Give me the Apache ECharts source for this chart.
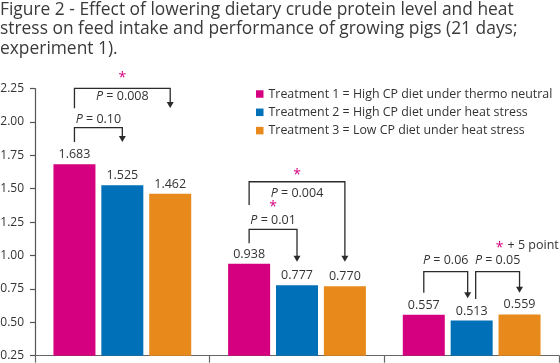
<!DOCTYPE html>
<html>
<head>
<meta charset="utf-8">
<script src="https://cdn.jsdelivr.net/npm/echarts@6/dist/echarts.min.js"></script>
<style>
html,body{margin:0;padding:0;background:#fff;}
#c{width:560px;height:363px;}
</style>
</head>
<body>
<div id="c"></div>
<script>
// ---- data ----
const categories = ['Group 1', 'Group 2', 'Group 3'];
const seriesNames = [
  'Treatment 1 = High CP diet under thermo neutral',
  'Treatment 2 = High CP diet under heat stress',
  'Treatment 3 = Low CP diet under heat stress'
];
const treatment1 = [1.683, 0.938, 0.557];
const treatment2 = [1.525, 0.777, 0.513];
const treatment3 = [1.462, 0.770, 0.559];
const yTicks = [0.25, 0.50, 0.75, 1.00, 1.25, 1.50, 1.75, 2.00, 2.25];
const pValues = ['0.008', '0.10', '0.004', '0.01', '0.06', '0.05'];
const titleText = 'Figure 2 - Effect of lowering dietary crude protein level and heat\nstress on feed intake and performance of growing pigs (21 days;\nexperiment 1).';
const noteText = '+ 5 point';

// ---- style ----
const colors = ['#d5007f', '#0070b9', '#e8891b'];
const FONT = '"Open Sans", sans-serif';
const TXT = '#333333';

const chart = echarts.init(document.getElementById('c'), null, {renderer: 'canvas'});

const allSeries = [treatment1, treatment2, treatment3].map((d, i) => ({
  name: seriesNames[i],
  type: 'bar',
  data: d,
  barWidth: 42,
  barGap: '14%',
  itemStyle: {color: colors[i]},
  label: {
    show: true, position: 'top', distance: 3,
    color: TXT, fontFamily: FONT, fontSize: 12.5,
    formatter: p => p.value.toFixed(3)
  }
}));

chart.setOption({
  animation: false,
  title: {
    text: titleText, left: 0, top: 0, padding: 0,
    textStyle: {fontFamily: FONT, fontSize: 17.4, fontWeight: 'normal', color: '#3a3a3a', lineHeight: 19.5}
  },
  legend: {
    orient: 'vertical', left: 256, top: 87, padding: 0,
    icon: 'rect', itemWidth: 7.5, itemHeight: 7.5, itemGap: 4.3,
    textStyle: {fontFamily: FONT, fontSize: 12.4, color: TXT, lineHeight: 14}
  },
  grid: {left: 35, right: 1, top: 88.5, height: 267.2, containLabel: false, outerBoundsMode: 'none'},
  xAxis: {
    type: 'category', data: categories,
    axisLine: {lineStyle: {color: '#666', width: 1.2}},
    axisTick: {show: true, length: 7, lineStyle: {color: '#666', width: 1.2}},
    axisLabel: {show: false}
  },
  yAxis: {
    type: 'value', min: yTicks[0], max: yTicks[yTicks.length - 1], interval: 0.25,
    axisLine: {show: true, lineStyle: {color: '#555', width: 1.2}},
    axisTick: {show: true, length: 5, lineStyle: {color: '#555', width: 1.2}},
    splitLine: {show: false},
    axisLabel: {
      margin: 11, color: TXT, fontFamily: FONT, fontSize: 12,
      formatter: v => v.toFixed(2)
    }
  },
  series: allSeries
});

// ---- significance brackets (levels in data units) ----
const brackets = [
  {cat: 0, a: 0, b: 2, top: 2.251, aEnd: 2.102, bEnd: 2.104, text: 2.189, p: pValues[0], star: 2.33},
  {cat: 0, a: 0, b: 1, top: 1.957, aEnd: 1.85, bEnd: 1.85, text: 2.022, p: pValues[1]},
  {cat: 1, a: 0, b: 2, top: 1.552, aEnd: 1.378, bEnd: 0.954, text: 1.466, p: pValues[2], star: 1.603},
  {cat: 1, a: 0, b: 1, top: 1.196, aEnd: 1.091, bEnd: 0.954, text: 1.260, p: pValues[3], star: 1.361},
  {cat: 2, a: 0, b: 1, top: 0.879, aEnd: 0.722, bEnd: 0.680, text: 0.966, p: pValues[4], bOff: -4},
  {cat: 2, a: 1, b: 2, top: 0.879, aEnd: 0.675, bEnd: 0.722, text: 0.966, p: pValues[5], aOff: 4}
];

function barCenterX(seriesIdx, cat) {
  const layout = chart.getModel().getSeriesByIndex(seriesIdx).getData().getItemLayout(cat);
  return layout.x + layout.width / 2;
}
function py(v) { return chart.convertToPixel({gridIndex: 0}, [0, v])[1]; }

const LINE = '#2b2b2b';
const elements = [];
brackets.forEach(br => {
  const xa = barCenterX(br.a, br.cat) + (br.aOff || 0);
  const xb = barCenterX(br.b, br.cat) + (br.bOff || 0);
  const yt = py(br.top), ya = py(br.aEnd), yb = py(br.bEnd);
  elements.push({
    type: 'polyline',
    shape: {points: [[xa, ya], [xa, yt], [xb, yt], [xb, yb - 5]]},
    style: {stroke: LINE, lineWidth: 1.3, fill: null}
  });
  elements.push({
    type: 'polygon',
    shape: {points: [[xb - 3.5, yb - 6], [xb + 3.5, yb - 6], [xb, yb]]},
    style: {fill: LINE}
  });
  elements.push({
    type: 'text',
    x: (xa + xb) / 2, y: py(br.text),
    style: {
      text: '{i|P} = ' + br.p,
      align: 'center', verticalAlign: 'middle',
      fontFamily: FONT, fontSize: 12.5, fill: TXT,
      rich: {i: {fontStyle: 'italic', fontFamily: FONT, fontSize: 12.5, fill: TXT}}
    }
  });
  if (br.star !== undefined) {
    elements.push({
      type: 'text',
      x: (xa + xb) / 2, y: py(br.star),
      style: {text: '*', align: 'center', verticalAlign: 'middle', fontFamily: FONT, fontSize: 14, fill: colors[0]}
    });
  }
});
// note "* + 5 point"
const noteX = barCenterX(2, 2) - 20;
const noteY = py(1.073);
elements.push({
  type: 'text', x: noteX, y: noteY + 2,
  style: {text: '*', align: 'center', verticalAlign: 'middle', fontFamily: FONT, fontSize: 14, fill: colors[0]}
});
elements.push({
  type: 'text', x: noteX + 8, y: noteY,
  style: {text: noteText, align: 'left', verticalAlign: 'middle', fontFamily: FONT, fontSize: 12.5, fill: TXT}
});

chart.setOption({graphic: {elements: elements}});
</script>
</body>
</html>
